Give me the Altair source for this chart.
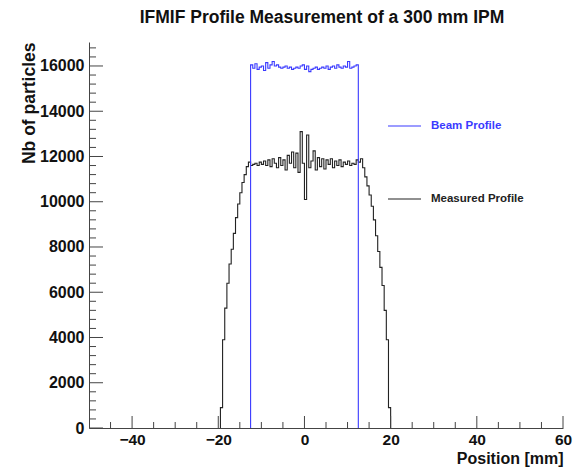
import altair as alt
import pandas as pd

BIN_WIDTH = 0.5

TITLE = "IFMIF Profile Measurement of a 300 mm IPM"

# Beam profile (blue) : bins of 0.5 mm starting at -12.5 mm
beam_start = -12.5
beam_values = [
    16050, 15900, 16100, 15850, 15950, 16000, 15800, 16150, 15900, 16050,
    16200, 16000, 16050, 15950, 15900, 15950, 16000, 15900, 15950, 15850,
    15900, 15950, 15900, 16000, 16050, 15850, 16000, 15750, 15850, 15900,
    15950, 15850, 15900, 15950, 15900, 16000, 15850, 15950, 16000, 15900,
    16050, 15950, 15900, 16000, 15950, 16200, 15900, 15950, 16000, 16050,
]

# Measured profile (black) : bins of 0.5 mm starting at -19.5 mm
meas_start = -19.5
meas_left_ramp = [900, 3900, 5300, 6400, 7250, 7900, 8600, 9300, 9900,
                  10400, 10850, 11200, 11550]
meas_plateau = [
    11750, 11600, 11650, 11700, 11600, 11750, 11650, 11800, 11600, 11850,
    11550, 11900, 11700, 11500, 11950, 11600, 11850, 11400, 12050, 11700,
    12200, 11500, 12150, 11300, 13100, 11700, 10100, 12950, 11500, 11800,
    12250, 11400, 11950, 11550, 11900, 11450, 11850, 11650, 11900, 11500,
    11800, 11600, 11850, 11550, 11750, 11650, 11800, 11600, 11700, 11650,
    11850, 11750,
]
meas_right_ramp = [11900, 11500, 11100, 10700, 10300, 9800, 9200, 8500,
                   7800, 7100, 6300, 5200, 3900, 900]
meas_values = meas_left_ramp + meas_plateau + meas_right_ramp

x_major = [-40, -20, 0, 20, 40, 60]
x_minor = [-45, -35, -30, -25, -15, -10, -5, 5, 10, 15, 25, 30, 35, 45, 50, 55]
y_major = [0, 2000, 4000, 6000, 8000, 10000, 12000, 14000, 16000]
y_minor = [v for v in range(400, 17000, 400) if v % 2000 != 0]

legend_names = ["Beam Profile", "Measured Profile"]
legend_colors = ["#3a3aff", "#222222"]


def steps(start, values, name):
    rows = [{"x": start, "y": 0, "o": 0, "s": name}]
    for i, v in enumerate(values):
        rows.append({"x": start + i * BIN_WIDTH, "y": v, "o": i + 1, "s": name})
    rows.append({"x": start + len(values) * BIN_WIDTH, "y": 0,
                 "o": len(values) + 1, "s": name})
    return rows


beam_df = pd.DataFrame(steps(beam_start, beam_values, "beam"))
meas_df = pd.DataFrame(steps(meas_start, meas_values, "meas"))

W, H = 474, 386
FONT = "Liberation Sans"

xscale = alt.Scale(domain=[-50, 60], nice=False, zero=False)
yscale = alt.Scale(domain=[0, 17060], nice=False)

x_axis = alt.Axis(values=x_major, ticks=False, grid=False, labelFontSize=15.5,
                  labelFontWeight="bold", labelFont=FONT, labelPadding=4,
                  labelColor="#111", domainColor="#444", labelFlush=False,
                  format="d",
                  title="Position [mm]", titleFont=FONT, titleFontSize=16,
                  titleFontWeight="bold", titleColor="#111",
                  titleX=W, titleY=35, titleAlign="right",
                  titleBaseline="alphabetic", titleAnchor="end")
y_axis = alt.Axis(values=y_major, ticks=False, grid=False, labelFontSize=16,
                  labelFontWeight="bold", labelFont=FONT, labelPadding=5,
                  labelColor="#111", domainColor="#444", labelFlush=False,
                  format="d",
                  title="Nb of particles", titleFont=FONT, titleFontSize=17.5,
                  titleFontWeight="bold", titleColor="#111",
                  titleAngle=270, titleX=-60, titleY=0, titleAlign="right",
                  titleBaseline="middle")

meas = alt.Chart(meas_df).mark_line(interpolate="step-after", color="#222222",
                                    strokeWidth=1.1).encode(
    x=alt.X("x:Q", scale=xscale, axis=x_axis),
    y=alt.Y("y:Q", scale=yscale, axis=y_axis),
    order="o:Q",
)
beam = alt.Chart(beam_df).mark_line(interpolate="step-after", color="#3a3aff",
                                    strokeWidth=1.1).encode(
    x=alt.X("x:Q", scale=xscale),
    y=alt.Y("y:Q", scale=yscale),
    order="o:Q",
)


def xticks(vals, length):
    return alt.Chart(pd.DataFrame({"x": vals})).mark_rule(
        color="#444", strokeWidth=1).encode(
        x=alt.X("x:Q", scale=xscale),
        y=alt.value(H), y2=alt.value(H - length))


def yticks(vals, length):
    return alt.Chart(pd.DataFrame({"y": vals})).mark_rule(
        color="#444", strokeWidth=1).encode(
        y=alt.Y("y:Q", scale=yscale),
        x=alt.value(0), x2=alt.value(length))


legend_df = pd.DataFrame({"name": legend_names, "color": legend_colors,
                          "ly": [84, 157]})
leg_lines = alt.Chart(legend_df).mark_rule(strokeWidth=1.2).encode(
    x=alt.value(299), x2=alt.value(332),
    y=alt.Y("ly:Q", scale=None),
    color=alt.Color("color:N", scale=None),
)
leg_text = alt.Chart(legend_df).mark_text(
    align="left", baseline="middle", font=FONT, fontSize=11.5,
    fontWeight="bold").encode(
    x=alt.value(342),
    y=alt.Y("ly:Q", scale=None),
    text="name:N",
    color=alt.Color("color:N", scale=None),
)

title_df = pd.DataFrame({"t": [TITLE]})
title_mark = alt.Chart(title_df).mark_text(
    align="center", baseline="alphabetic", font=FONT, fontSize=17.5,
    fontWeight="bold", color="#111").encode(
    x=alt.value(233), y=alt.value(-19), text="t:N")

chart = alt.layer(
    meas, beam,
    xticks(x_major, 12), xticks(x_minor, 6),
    yticks(y_major, 14), yticks(y_minor, 7),
    leg_lines, leg_text, title_mark,
).properties(
    width=W, height=H,
    autosize=alt.AutoSizeParams(type="none"),
    padding={"left": 89, "top": 42, "right": 11, "bottom": 41},
    background="white",
).configure_view(strokeOpacity=0)

chart.save("out.html", embed_options={"renderer": "svg", "actions": False})
